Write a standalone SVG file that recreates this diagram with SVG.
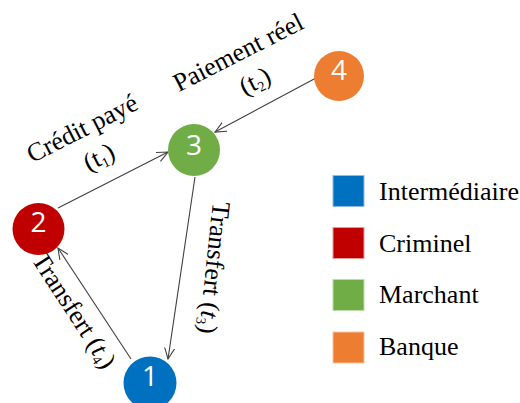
<svg xmlns="http://www.w3.org/2000/svg" width="520" height="403" viewBox="0 0 520 403">
<defs>
<style>
.lbl{font-family:"Liberation Serif","Times New Roman",serif;font-size:26px;fill:#000;}
.num{font-family:"Open Sans","Liberation Sans",sans-serif;font-size:28px;fill:#fff;text-anchor:middle;}
.leg{font-family:"Liberation Serif","Times New Roman",serif;font-size:26px;fill:#000;}
.edge{stroke:#404040;stroke-width:1.1;fill:none;marker-end:url(#arr);}
</style>
<marker id="arr" viewBox="0 0 12 12" refX="11" refY="6" markerWidth="12" markerHeight="12" markerUnits="userSpaceOnUse" orient="auto">
<path d="M0,1 L11,6 L0,11" fill="none" stroke="#404040" stroke-width="1.1"/>
</marker>
</defs>
<rect width="520" height="403" fill="#fff"/>
<g id="connectors">
<line class="edge" x1="58" y1="208" x2="168" y2="152"/>
<line class="edge" x1="316" y1="78" x2="215" y2="132"/>
<line class="edge" x1="195" y1="177" x2="168" y2="359"/>
<line class="edge" x1="131" y1="359" x2="58" y2="248"/>
</g>
<g id="labels">
<g transform="translate(86,136) rotate(-27)">
<text class="lbl" x="0" y="0" text-anchor="middle">Crédit payé</text>
<text class="lbl" x="2" y="33" text-anchor="middle">(t<tspan font-size="14" dy="4">1</tspan><tspan dy="-4">)</tspan></text>
</g>
<g transform="translate(242,60) rotate(-27)">
<text class="lbl" x="0" y="0" text-anchor="middle">Paiement réel</text>
<text class="lbl" x="2" y="33" text-anchor="middle">(t<tspan font-size="14" dy="4">2</tspan><tspan dy="-4">)</tspan></text>
</g>
<g transform="translate(206,267) rotate(96)">
<text class="lbl" x="0" y="0" text-anchor="middle">Transfert (<tspan font-style="italic">t</tspan><tspan font-size="14" dy="4">3</tspan><tspan dy="-4">)</tspan></text>
</g>
<g transform="translate(67,315) rotate(57)">
<text class="lbl" x="0" y="0" text-anchor="middle">Transfert (<tspan font-style="italic">t</tspan><tspan font-size="14" dy="4">4</tspan><tspan dy="-4">)</tspan></text>
</g>
</g>
<g id="node1">
<circle cx="150" cy="383" r="26.5" fill="#0070C0"/>
<text class="num" x="150" y="386">1</text>
</g>
<g id="node2">
<circle cx="38.5" cy="229" r="26" fill="#C00000"/>
<text class="num" x="38.5" y="232">2</text>
</g>
<g id="node3">
<circle cx="194" cy="150" r="26" fill="#70AD47"/>
<text class="num" x="194" y="155">3</text>
</g>
<g id="node4">
<circle cx="339" cy="76" r="25" fill="#ED7D31"/>
<text class="num" x="339" y="80">4</text>
</g>
<g id="legend">
<rect x="333" y="175.5" width="31" height="31" fill="#0070C0" stroke="#8fbbe3" stroke-width="1"/>
<text class="leg" x="379" y="200">Intermédiaire</text>
<rect x="333" y="227.5" width="31" height="31" fill="#C00000" stroke="#e59a9a" stroke-width="1"/>
<text class="leg" x="379" y="251.5">Criminel</text>
<rect x="333" y="279.5" width="31" height="31" fill="#70AD47" stroke="#bcdcaa" stroke-width="1"/>
<text class="leg" x="379" y="303">Marchant</text>
<rect x="333" y="332" width="31" height="31" fill="#ED7D31" stroke="#f7c3a0" stroke-width="1"/>
<text class="leg" x="379" y="355">Banque</text>
</g>
</svg>
